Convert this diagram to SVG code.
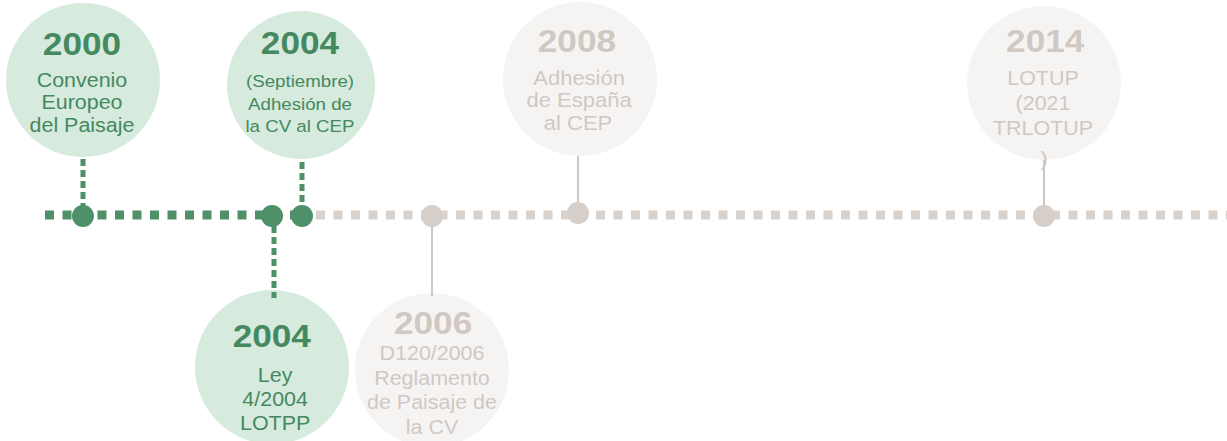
<svg xmlns="http://www.w3.org/2000/svg" width="1227" height="441" viewBox="0 0 1227 441">
<style>
.gc{fill:#d6eadd}
.xc{fill:#f6f4f3}
.yr{font-family:"Liberation Sans",Arial,sans-serif;font-weight:bold;font-size:32px;text-anchor:middle}
.tx{font-family:"Liberation Sans",Arial,sans-serif;font-size:19.5px;text-anchor:middle}
.sm{font-size:17px}
.lg{font-size:20px}
.g{fill:#448960}
.x{fill:#d0c8c3}
.gd{stroke:#4f9068;stroke-width:9;stroke-dasharray:9 8.5}
.gv{stroke:#4f9068;stroke-width:5;stroke-dasharray:7 4}
.xd{stroke:#d8d1cc;stroke-width:9;stroke-dasharray:9 8.5}
.xl{stroke:#cfc7c2;stroke-width:2}
</style>
<rect width="1227" height="441" fill="#ffffff"/>
<g id="node-2000">
<circle class="gc" cx="83" cy="80" r="77"/>
<g transform="translate(82,0) scale(1.1,1)">
<text class="yr g" x="0" y="55">2000</text>
<text class="tx g" x="0" y="87">Convenio</text>
<text class="tx g" x="0" y="109">Europeo</text>
<text class="tx g" x="0" y="132">del Paisaje</text>
</g>
</g>
<g id="node-2004-sep">
<circle class="gc" cx="301" cy="85" r="74"/>
<g transform="translate(300,0) scale(1.1,1)">
<text class="yr g" x="0" y="54">2004</text>
<text class="tx sm g" x="0" y="87">(Septiembre)</text>
<text class="tx sm g" x="0" y="110">Adhesión de</text>
<text class="tx sm g" x="0" y="132">la CV al CEP</text>
</g>
</g>
<g id="node-2004-ley">
<circle class="gc" cx="272" cy="367" r="77"/>
<g transform="translate(274,0) scale(1.1,1)">
<text class="yr g" x="-2" y="347">2004</text>
<text class="tx g" x="1" y="382">Ley</text>
<text class="tx g" x="1" y="406">4/2004</text>
<text class="tx g" x="1" y="430">LOTPP</text>
</g>
</g>
<g id="node-2006">
<circle class="xc" cx="432" cy="370" r="77"/>
<g transform="translate(432,0) scale(1.1,1)">
<text class="yr x" x="1" y="334">2006</text>
<text class="tx x" x="0" y="360">D120/2006</text>
<text class="tx x" x="0" y="385">Reglamento</text>
<text class="tx x" x="0" y="409">de Paisaje de</text>
<text class="tx x" x="0" y="434">la CV</text>
</g>
</g>
<g id="node-2008">
<circle class="xc" cx="580" cy="79" r="77"/>
<g transform="translate(578,0) scale(1.1,1)">
<text class="yr x" x="-1" y="52">2008</text>
<text class="tx lg x" x="1" y="85">Adhesión</text>
<text class="tx lg x" x="1" y="107">de España</text>
<text class="tx lg x" x="0" y="130">al CEP</text>
</g>
</g>
<g id="node-2014">
<circle class="xc" cx="1044" cy="83" r="77"/>
<g transform="translate(1043,0) scale(1.1,1)">
<text class="yr x" x="2" y="52">2014</text>
<text class="tx x" x="0" y="85">LOTUP</text>
<text class="tx x" x="0" y="110">(2021</text>
<text class="tx x" x="0" y="135">TRLOTUP</text>
<text class="tx x" x="1" y="166">)</text>
</g>
</g>
<g id="connectors">
<line class="xd" x1="316" y1="215" x2="1227" y2="215"/>
<line class="gd" x1="45" y1="215" x2="302" y2="215"/>
<line class="gv" x1="83" y1="159" x2="83" y2="215"/>
<line class="gv" x1="302" y1="162" x2="302" y2="215"/>
<line class="gv" x1="274" y1="215" x2="274" y2="298"/>
<line class="xl" x1="432" y1="215" x2="432" y2="296"/>
<line class="xl" x1="578" y1="156" x2="578" y2="215"/>
<line class="xl" x1="1044" y1="160" x2="1044" y2="215"/>
<circle cx="83" cy="216" r="11" fill="#4f9068"/>
<circle cx="272" cy="216" r="11" fill="#4f9068"/>
<circle cx="302" cy="216" r="11" fill="#4f9068"/>
<circle cx="432" cy="216" r="11" fill="#d6cec9"/>
<circle cx="578" cy="213" r="11" fill="#d6cec9"/>
<circle cx="1044" cy="216" r="11" fill="#d6cec9"/>
</g>
</svg>
